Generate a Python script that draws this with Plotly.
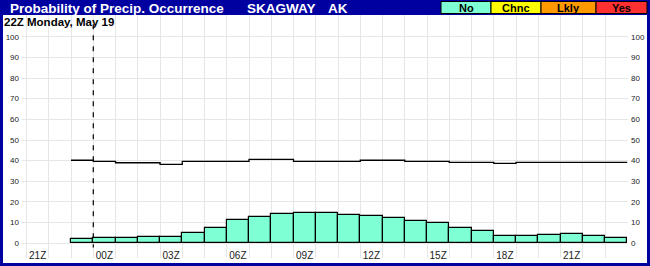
import plotly.graph_objects as go

# ---- data ----
hours = list(range(-1, 24))  # hour offsets from 00Z (first bar = 23Z previous day)
pop_no = [2.1, 2.6, 2.6, 3.0, 3.0, 4.8, 7.2, 11.1, 12.6, 14.0, 14.5, 14.5, 13.5,
          13.0, 12.1, 10.8, 9.7, 7.2, 5.9, 3.4, 3.4, 3.9, 4.4, 3.4, 2.4]
line_vals = [40.2, 39.7, 39.0, 39.0, 38.2, 39.7, 39.7, 39.7, 40.6, 40.6, 39.7, 39.7, 39.7,
             40.2, 40.2, 39.7, 39.7, 39.2, 39.2, 38.7, 39.2, 39.2, 39.2, 39.2, 39.2]
tick_vals = [-3, 0, 3, 6, 9, 12, 15, 18, 21]
tick_text = ["21Z", "00Z", "03Z", "06Z", "09Z", "12Z", "15Z", "18Z", "21Z"]
y_ticks = list(range(0, 101, 10))
now_marker = -0.5
legend_names = ["No", "Chnc", "Lkly", "Yes"]
legend_colors = ["#7FFFD4", "#FFFF00", "#FF9900", "#FF3030"]

# ---- layout geometry (pixels) ----
W, H = 650, 266
L, R, T, B = 22, 628, 15, 258
PW, PH = R - L, B - T
NAVY = "#0000A0"
FONT = "Liberation Sans"

def px(x):
    return (x - L) / PW

def py(y):
    return (B - y) / PH

x0h = (L - 104.4) / 22.25
x1h = (R - 104.4) / 22.25
y0v = -(B - 243.3) / 2.066
y1v = (243.3 - T) / 2.066

fig = go.Figure()
fig.add_trace(go.Bar(x=hours, y=pop_no, width=1.0, marker=dict(color="#7FFFD4",
                     line=dict(color="black", width=1.2)), showlegend=False, hoverinfo="skip"))
edges = [h - 0.5 for h in hours] + [hours[-1] + 0.5]
fig.add_trace(go.Scatter(x=edges, y=line_vals + [line_vals[-1]], mode="lines",
                         line=dict(color="black", width=1.3, shape="hv"), showlegend=False,
                         hoverinfo="skip"))
fig.add_trace(go.Scatter(x=[hours[0]], y=[0], yaxis="y2", mode="markers",
                         marker=dict(opacity=0), showlegend=False, hoverinfo="skip"))

shapes = []
# vertical "now" marker
shapes.append(dict(type="line", xref="x", yref="y", x0=now_marker, x1=now_marker, y0=106, y1=-2,
                   line=dict(color="black", width=1.2, dash="5px,6px")))
# title bar
shapes.append(dict(type="rect", xref="paper", yref="paper", x0=px(0), x1=px(W), y0=py(15), y1=py(0),
                   fillcolor=NAVY, line=dict(width=0), layer="above"))
# borders
shapes.append(dict(type="rect", xref="paper", yref="paper", x0=px(0), x1=px(3), y0=py(H), y1=py(0),
                   fillcolor=NAVY, line=dict(width=0), layer="above"))
shapes.append(dict(type="rect", xref="paper", yref="paper", x0=px(647), x1=px(W), y0=py(H), y1=py(0),
                   fillcolor=NAVY, line=dict(width=0), layer="above"))
shapes.append(dict(type="rect", xref="paper", yref="paper", x0=px(0), x1=px(W), y0=py(H), y1=py(263),
                   fillcolor=NAVY, line=dict(width=0), layer="above"))

annotations = []
box_edges = [441, 491, 541, 596, 647]
for i, (name, col) in enumerate(zip(legend_names, legend_colors)):
    shapes.append(dict(type="rect", xref="paper", yref="paper", x0=px(box_edges[i]),
                       x1=px(box_edges[i + 1]), y0=py(13.5), y1=py(1.5), fillcolor=col,
                       line=dict(color="black", width=1), layer="above"))
    annotations.append(dict(xref="paper", yref="paper", x=px((box_edges[i] + box_edges[i + 1]) / 2),
                            y=py(7.5), text="<b>%s</b>" % name, showarrow=False, xanchor="center",
                            yanchor="middle", font=dict(family=FONT, size=11, color="black")))

for txt, xp in [("Probability of Precip. Occurrence", 8), ("SKAGWAY", 245), ("AK", 326)]:
    annotations.append(dict(xref="paper", yref="paper", x=px(xp), y=py(8), text="<b>%s</b>" % txt,
                            showarrow=False, xanchor="left", yanchor="middle",
                            font=dict(family=FONT, size=13.5, color="white")))
annotations.append(dict(xref="paper", yref="paper", x=px(2), y=py(21.5),
                        text="<b>22Z Monday, May 19</b>", showarrow=False, xanchor="left",
                        yanchor="middle", font=dict(family=FONT, size=11.5, color="black")))

fig.update_layout(
    width=W, height=H, margin=dict(l=L, r=W - R, t=T, b=H - B, pad=0, autoexpand=False),
    paper_bgcolor="white", plot_bgcolor="white", bargap=0,
    shapes=shapes, annotations=annotations,
    xaxis=dict(range=[x0h, x1h], tickvals=tick_vals, ticktext=tick_text, showgrid=False,
               zeroline=False, showline=False, ticks="", anchor="free", position=py(247.5),
               automargin=False, domain=[0, 1],
               tickfont=dict(family=FONT, size=10, color="#222"),
               minor=dict(tick0=0.5, dtick=1, showgrid=True, gridcolor="#e6e6e6", gridwidth=1)),
    yaxis=dict(range=[y0v, y1v], tickvals=y_ticks, showgrid=True, gridcolor="#e6e6e6",
               zeroline=False, showline=False, ticks="", ticklabelstandoff=3, automargin=False,
               domain=[0, 1], anchor="free", position=0,
               tickfont=dict(family=FONT, size=8, color="#222")),
    yaxis2=dict(range=[y0v, y1v], tickvals=y_ticks, overlaying="y", side="right", showgrid=False,
                zeroline=False, showline=False, ticks="", ticklabelstandoff=2, automargin=False,
                anchor="free", position=1,
                tickfont=dict(family=FONT, size=8, color="#222")),
)
fig.write_html("out.html")
